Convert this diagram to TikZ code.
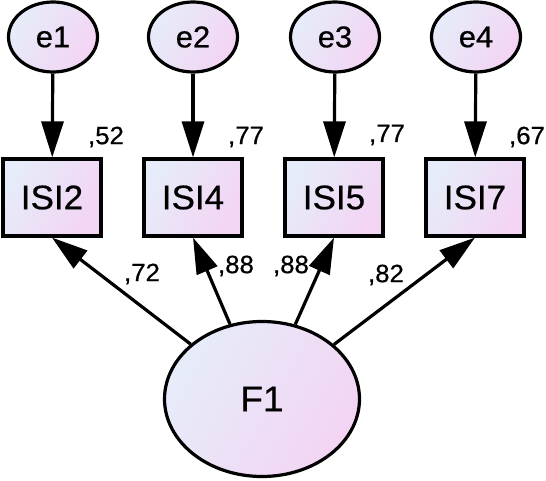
\documentclass[tikz,border=0pt]{standalone}
\usepackage{fontspec}
\setmainfont{Liberation Sans}[FakeStretch=1.03,FakeBold=0.6]
\usetikzlibrary{arrows.meta,shapes.geometric}
\definecolor{fillL}{RGB}{230,236,249}
\definecolor{fillR}{RGB}{243,212,243}
\tikzset{
  shadefill/.style={left color=fillL, right color=fillR, shading angle=60},
  errnode/.style={ellipse, draw, line width=3.2pt, shadefill, minimum width=89pt, minimum height=70pt, inner sep=0pt, font=\fontsize{30}{31}\selectfont},
  obsbox/.style={rectangle, draw, line width=3.2pt, shadefill, minimum width=98pt, minimum height=77pt, inner sep=0pt, font=\fontsize{34}{35}\selectfont},
  latnode/.style={ellipse, draw, line width=3.2pt, shadefill, minimum width=195pt, minimum height=155pt, inner sep=0pt, font=\fontsize{36}{37}\selectfont},
  arr/.style={line width=3.2pt, -{Triangle[length=36pt,width=22pt]}},
  val/.style={inner sep=0pt, font=\fontsize{25}{26}\selectfont}
}
\begin{document}
\begin{tikzpicture}[x=1pt,y=1pt]
\useasboundingbox (0,0) rectangle (546,480);
\node[errnode] (e1) at (53,443) {e1};
\node[errnode] (e2) at (193,443) {e2};
\node[errnode] (e3) at (335,443) {e3};
\node[errnode] (e4) at (476,443) {e4};
\node[obsbox] (ISI2) at (52,282.5) {ISI2};
\node[obsbox] (ISI4) at (193,282.5) {ISI4};
\node[obsbox] (ISI5) at (334,282.5) {ISI5};
\node[obsbox] (ISI7) at (475,282.5) {ISI7};
\node[latnode] (F1) at (262,81) {F1};
\draw[arr] (e1) -- (ISI2);
\draw[arr] (e2) -- (ISI4);
\draw[arr] (e3) -- (ISI5);
\draw[arr] (e4) -- (ISI7);
\draw[arr] (F1) -- (ISI2.south);
\draw[arr] (F1) -- (ISI4.south);
\draw[arr] (F1) -- (ISI5.south);
\draw[arr] (F1) -- (ISI7.south);
\node[val] (r2) at (106,343) {,52};
\node[val] (r4) at (246,343) {,77};
\node[val] (r5) at (387,345) {,77};
\node[val] (r7) at (527,343) {,67};
\node[val] (l2) at (142,206) {,72};
\node[val] (l4) at (236,214) {,88};
\node[val] (l5) at (291,214) {,88};
\node[val] (l7) at (386,205) {,82};
\end{tikzpicture}
\end{document}
